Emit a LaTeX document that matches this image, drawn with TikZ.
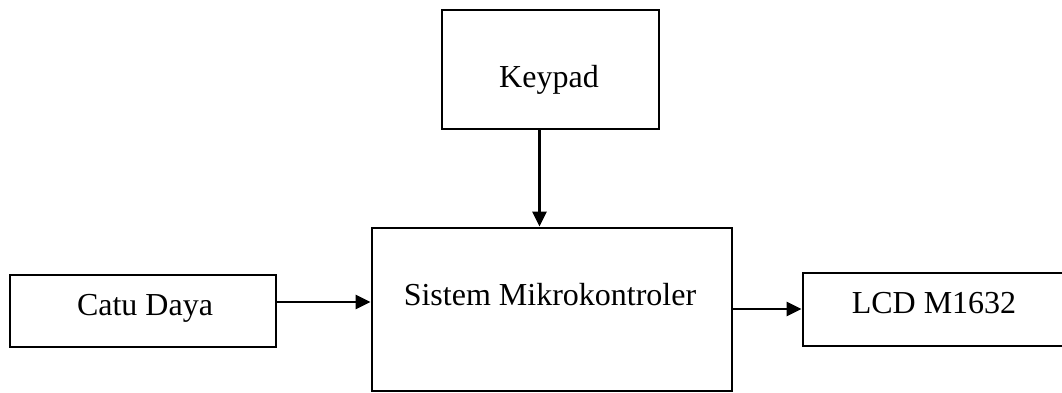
\documentclass[tikz,border=0pt]{standalone}
\usepackage{fontspec}
\setmainfont{Liberation Serif}
\usetikzlibrary{arrows.meta}
\begin{document}
\begin{tikzpicture}[x=1pt,y=-1pt,
  blk/.style={draw=black,line width=2.8pt,rectangle,inner sep=0pt},
  lbl/.style={anchor=base,inner sep=0pt,font=\fontsize{32}{38}\selectfont},
  conn/.style={line width=2.8pt,-{Triangle[length=15pt,width=14pt]}}]
\useasboundingbox (0,0) rectangle (1062,392);
% boxes
\node[blk,minimum width=217pt,minimum height=119pt] (keypad) at (550.5,69.5) {};
\node[blk,minimum width=360pt,minimum height=163pt] (mcu) at (552,309.5) {};
\node[blk,minimum width=266pt,minimum height=72pt] (catu) at (143,311) {};
\node[blk,minimum width=262pt,minimum height=73pt] (lcd) at (934,309.5) {};
% texts
\node[lbl] (tkeypad) at (549,87) {Keypad};
\node[lbl] (tmcu) at (550,305) {Sistem Mikrokontroler};
\node[lbl] (tcatu) at (145,315) {Catu Daya};
\node[lbl] (tlcd) at (934,313) {LCD M1632};
% connectors
\draw[conn] ([xshift=-11pt]keypad.south) -- ([xshift=-11pt]keypad.south |- mcu.north);
\draw[conn] (catu.east |- 0,302) -- (mcu.west |- 0,302);
\draw[conn] (mcu.east |- 0,309) -- (lcd.west |- 0,309);
\end{tikzpicture}
\end{document}
